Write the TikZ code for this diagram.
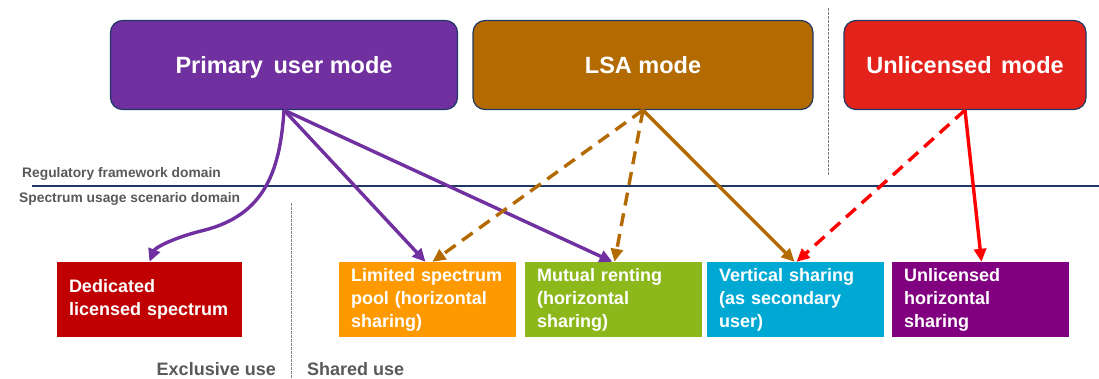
\documentclass[tikz,border=0pt]{standalone}
\usepackage{fontspec}
\setmainfont{Liberation Sans}
\usetikzlibrary{arrows.meta}
\definecolor{cprim}{HTML}{7030A0}
\definecolor{clsa}{HTML}{B36A00}
\definecolor{cunl}{HTML}{E3231B}
\definecolor{cedge}{HTML}{1F3864}
\definecolor{cded}{HTML}{C00000}
\definecolor{clim}{HTML}{FF9900}
\definecolor{cmut}{HTML}{8CB81B}
\definecolor{cver}{HTML}{00A9D4}
\definecolor{cuh}{HTML}{800080}
\definecolor{cgray}{HTML}{595959}
\definecolor{cred}{HTML}{FF0000}
\tikzset{
  modebox/.style={draw=cedge, line width=1.2pt, rounded corners=12pt, minimum width=347pt, minimum height=89pt, inner sep=0pt, text height=17pt, text depth=0pt, text=white, font=\fontsize{23.5}{28}\selectfont\bfseries},
  scenbox/.style={minimum width=177pt, minimum height=75pt, inner sep=0pt, text width=153pt, align=left, text=white, font=\fontsize{18}{23}\selectfont\bfseries},
  domlabel/.style={text=cgray, font=\fontsize{13.8}{16}\selectfont\bfseries, inner sep=0pt},
  uselabel/.style={text=cgray, font=\fontsize{18}{20}\selectfont\bfseries, inner sep=0pt},
  sep/.style={draw=gray, line width=1pt, dash pattern=on 2.5pt off 1.5pt},
  conn/.style={line width=3.4pt, -{Triangle[length=13pt,width=12pt]}},
  dashconn/.style={conn, dash pattern=on 13pt off 8pt},
}
\begin{document}
\begin{tikzpicture}[x=1pt,y=-1pt]
\useasboundingbox (0,0) rectangle (1099,378);
% separators
\draw[sep] (828,8) -- (828,175);
\draw[sep] (291,203) -- (291,378);
\draw[cedge, line width=1.6pt] (32,186) -- (1099,186);
% labels
\node[domlabel, anchor=west] (reg) at (22,174) {Regulatory framework domain};
\node[domlabel, anchor=west] (spec) at (19,199) {Spectrum usage scenario domain};
\node[uselabel, anchor=east] (excl) at (276,369) {Exclusive use};
\node[uselabel, anchor=west] (shar) at (307,369) {Shared use};
% mode boxes
\node[modebox, fill=cprim] (prim) at (284,65) {Primary\hspace{0.45em}user mode};
\node[modebox, fill=clsa, minimum width=340pt] (lsa) at (643,65) {LSA mode};
\node[modebox, fill=cunl, minimum width=242pt] (unlm) at (965,65) {Unlicensed\hspace{0.4em}mode};
% scenario boxes
\node[scenbox, fill=cded, minimum width=185pt, text width=161pt] (ded) at (149.5,299.5) {Dedicated\\licensed spectrum};
\node[scenbox, fill=clim] (lim) at (427.5,299.5) {Limited spectrum\\pool (horizontal\\sharing)};
\node[scenbox, fill=cmut] (mut) at (613.5,299.5) {Mutual renting\\(horizontal\\sharing)};
\node[scenbox, fill=cver] (ver) at (795.5,299.5) {Vertical sharing\\(as secondary\\user)};
\node[scenbox, fill=cuh] (uh) at (980.5,299.5) {Unlicensed\\horizontal\\sharing};
% connectors
\draw[conn, cprim] (prim.south) .. controls (280,175) and (262,215) .. (205,230) .. controls (172,238) and (155,248) .. (ded.north);
\draw[conn, cprim] (prim.south) -- ([xshift=-2pt]lim.north);
\draw[conn, cprim] (prim.south) -- ([xshift=-1pt]mut.north);
\draw[dashconn, clsa] (lsa.south) -- ([xshift=5pt]lim.north);
\draw[dashconn, clsa] (lsa.south) -- ([xshift=1pt]mut.north);
\draw[conn, clsa] (lsa.south) -- ([xshift=-1pt]ver.north);
\draw[dashconn, cred] (unlm.south) -- ([xshift=1pt]ver.north);
\draw[conn, cred] (unlm.south) -- ([xshift=1pt]uh.north);
\end{tikzpicture}
\end{document}
